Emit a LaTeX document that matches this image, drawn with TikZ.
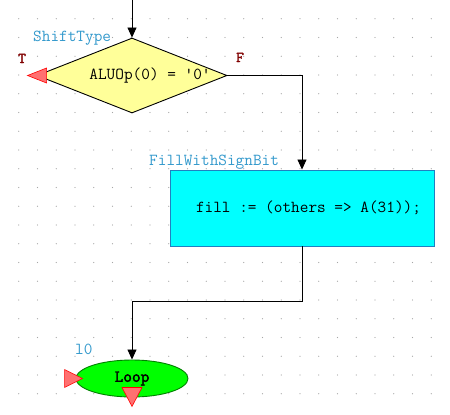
\documentclass[tikz,border=0pt]{standalone}
\usepackage{xcolor}
\usepackage{fontspec}
\setmonofont{Latin Modern Mono}[AutoFakeBold=2.5]
\usepackage{tikz}
\usetikzlibrary{shapes.geometric, arrows.meta}

\definecolor{decfill}{HTML}{FFFF99}
\definecolor{actfill}{HTML}{00FFFF}
\definecolor{actline}{HTML}{2080C0}
\definecolor{loopfill}{HTML}{00FF00}
\definecolor{loopline}{HTML}{008000}
\definecolor{labelblue}{HTML}{3399CC}
\definecolor{branchred}{HTML}{800000}
\definecolor{markfill}{HTML}{FF7070}

\begin{document}
\begin{tikzpicture}[x=1pt, y=-1pt, >={Triangle[length=10pt, width=9pt]},
        every node/.style={inner sep=0pt, font=\ttfamily\fontsize{16.8}{18}\selectfont},
        tagtext/.style={anchor=base west, text=labelblue},
        branchtext/.style={anchor=base west, text=branchred, font=\ttfamily\bfseries\fontsize{15}{16}\selectfont},
        marker/.style={draw=red, fill=markfill, line width=0.6pt},
        conn/.style={line width=0.8pt}]
            \useasboundingbox (0,0) rectangle (450,415);
            \foreach \i in {1,...,23}
                \foreach \j in {1,...,21}
                    \fill[gray!70] (\i*18.75, \j*18.75) circle (0.6pt);

            \node[diamond, draw, fill=decfill, line width=0.9pt, minimum width=190pt, minimum height=75pt,
                label={[xshift=18pt]center:{ALUOp(0) = '0'}}] at (132,75.5) (shift) {};
            \node[draw=actline, fill=actfill, line width=0.9pt, minimum width=264pt, minimum height=76pt,
                label={[xshift=6.5pt]center:{fill := (others => A(31));}}] at (302,208) (fill) {};
            \node[ellipse, draw=loopline, fill=loopfill, line width=0.9pt, minimum width=112pt, minimum height=37pt,
                font=\ttfamily\bfseries\fontsize{16.8}{18}\selectfont] at (132,378.5) (loop) {Loop};

            \node[tagtext] at (33,41) (shiftname) {ShiftType};
            \node[tagtext] at (149,165) (fillname) {FillWithSignBit};
            \node[tagtext] at (75,354) (loopname) {l0};
            \node[branchtext] at (18,63) (tlabel) {T};
            \node[branchtext] at (236,62) (flabel) {F};

            \coordinate (entry) at (132,0);
            \draw[conn, ->] (entry) -- (shift.north);
            \draw[conn, ->] (shift.east) -| (fill.north);
            \draw[conn, ->] (fill.south) -- ++(0,55) -| (loop.north);

            \draw[marker] (shift.west) ++(10,-7.5) -- ++(0,15) -- ++(-19,-7.5) -- cycle;
            \draw[marker] (loop.west) ++(-11,-9) -- ++(0,18) -- ++(18,-9) -- cycle;
            \draw[marker] (loop.south) ++(-10,-10) -- ++(20,0) -- ++(-10,19) -- cycle;
        \end{tikzpicture}
\end{document}
